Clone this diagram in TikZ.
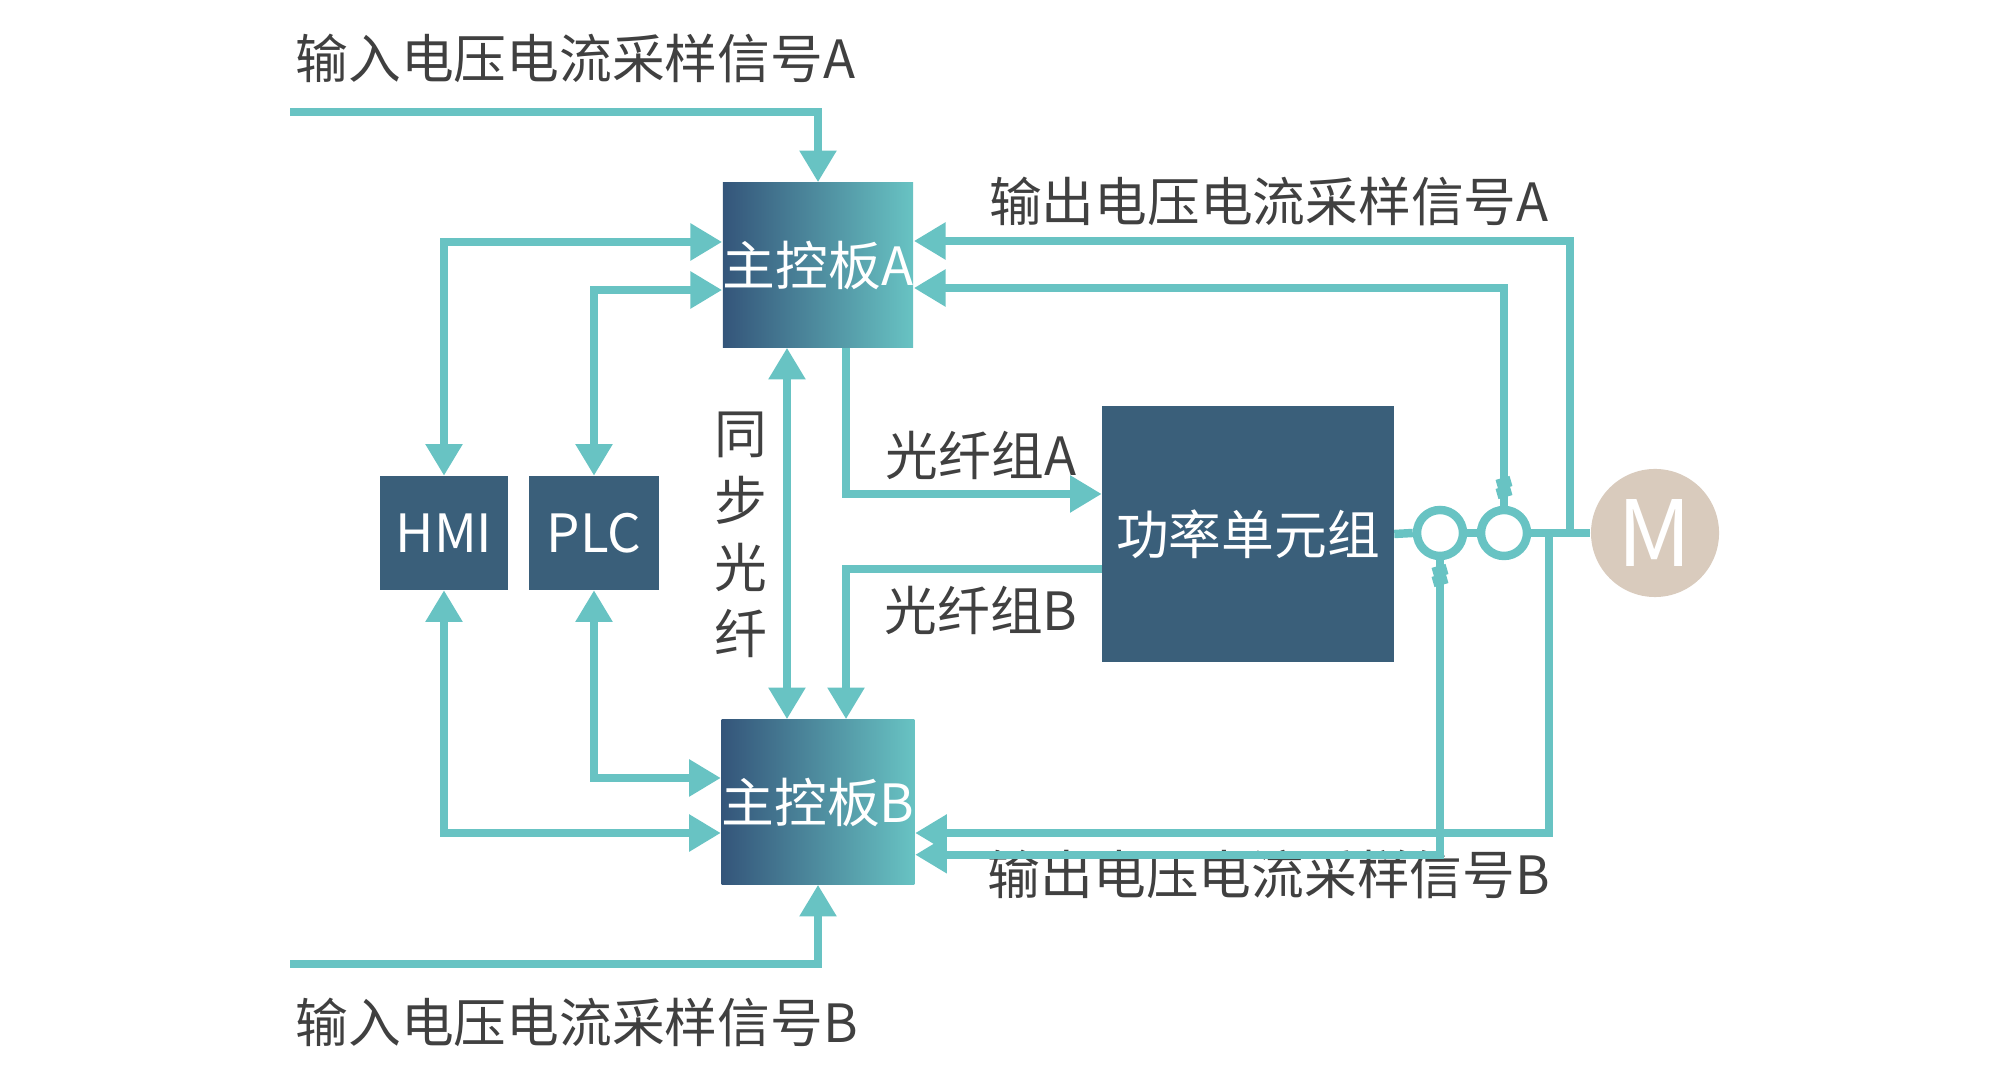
\documentclass[tikz,border=0pt]{standalone}
\usepackage{fontspec}
\setmainfont{Noto Sans CJK SC}
\usetikzlibrary{arrows.meta}
\definecolor{teal1}{HTML}{68C3C3}
\definecolor{navy1}{HTML}{3A5F7A}
\definecolor{navy2}{HTML}{34557A}
\definecolor{sand}{HTML}{D9CBBD}
\definecolor{txt}{HTML}{404040}
\tikzset{
  line/.style={draw=teal1, line width=2.4pt},
  arr/.style={line, -{Triangle[length=9pt,width=10pt]}},
  darr/.style={line, {Triangle[length=9pt,width=10pt]}-{Triangle[length=9pt,width=10pt]}},
  board/.style={shading angle=60, left color=navy2, right color=teal1, text=white,
    minimum width=1.89cm, minimum height=1.64cm, inner sep=0pt, font=\fontsize{15}{17}\selectfont},
  unit/.style={fill=navy1, text=white, inner sep=0pt, font=\fontsize{15}{17}\selectfont},
  lbl/.style={text=txt, font=\fontsize{15}{17}\selectfont, inner sep=0pt},
  ring/.style={line, circle, minimum size=0.46cm, inner sep=0pt},
}
\begin{document}
\begin{tikzpicture}[x=0.01cm, y=-0.01cm]
    \useasboundingbox (0,0) rectangle (2000,1080);

    % the boxes
    \node[board] (ca) at (818,265) {主控板A};
    \node[board] (cb) at (818,802) {主控板B};
    \node[unit, minimum width=1.28cm, minimum height=1.13cm] (hmi) at (444,533) {HMI};
    \node[unit, minimum width=1.29cm, minimum height=1.13cm] (plc) at (594,533) {PLC};
    \node[unit, minimum width=2.91cm, minimum height=2.56cm] (pu) at (1248,534) {功率单元组};
    \node[circle, fill=sand, text=white, minimum size=1.28cm, inner sep=0pt,
          font=\fontsize{26}{28}\selectfont] (m) at (1655,533) {M};

    % the current sensors
    \node[ring] (s1) at (1440,533) {};
    \node[ring] (s2) at (1504,533) {};

    % the texts
    \node[lbl, anchor=west] (ina) at (295,58) {输入电压电流采样信号A};
    \node[lbl, anchor=west] (inb) at (295,1022) {输入电压电流采样信号B};
    \node[lbl] (outa) at (1269,201) {输出电压电流采样信号A};
    \node[lbl] (outb) at (1269,874) {输出电压电流采样信号B};
    \node[lbl] (fa) at (981,455) {光纤组A};
    \node[lbl] (fb) at (981,610) {光纤组B};
    \node[lbl, align=center, font=\fontsize{15}{19}\selectfont] (sync) at (741,535) {同\\步\\光\\纤};

    % the corner points of the lines
    \coordinate (ia) at (290,112);
    \coordinate (ib) at (290,964);
    \coordinate (oa) at (1570,241);
    \coordinate (ob) at (1549,833);
    \coordinate (ja) at (1570,533);
    \coordinate (jb) at (1549,533);

    % the lines
    \draw[line] (pu.east) -- (s1.west);
    \draw[line] (s1.east) -- (s2.west);
    \draw[line] (s2.east) -- (m.west);
    \draw[arr] (ia) -| (ca.north);
    \draw[arr] (ib) -| (cb.south);
    \draw[arr] (ja) -- (oa) -- (oa -| ca.east);
    \draw[arr] (s2.north) |- ([yshift=-0.23cm]ca.east);
    \draw[arr] (s1.south) |- ([yshift=0.3cm]cb.south east);
    \draw[arr] (jb) -- (ob) -- (ob -| cb.east);
    \draw[darr] (hmi.north) |- ([yshift=0.23cm]ca.west);
    \draw[darr] (plc.north) |- ([yshift=-0.25cm]ca.west);
    \draw[darr] (plc.south) |- ([yshift=0.24cm]cb.west);
    \draw[darr] (hmi.south) |- ([yshift=-0.31cm]cb.west);
    \draw[darr] ([xshift=-0.31cm]ca.south) -- ([xshift=-0.31cm]cb.north);
    \draw[arr] ([xshift=0.28cm]ca.south) |- ([yshift=0.4cm]pu.west);
    \draw[arr] ([yshift=-0.35cm]pu.west) -| ([xshift=0.28cm]cb.north);

    % the break marks on the sensor lines
    \foreach \yy in {483,492} {
      \draw[teal1, line width=3pt] (1497,\yy+2) -- (1511,\yy-2);
    }
    \foreach \yy in {571,580} {
      \draw[teal1, line width=3pt] (1433,\yy+2) -- (1447,\yy-2);
    }
\end{tikzpicture}
\end{document}
